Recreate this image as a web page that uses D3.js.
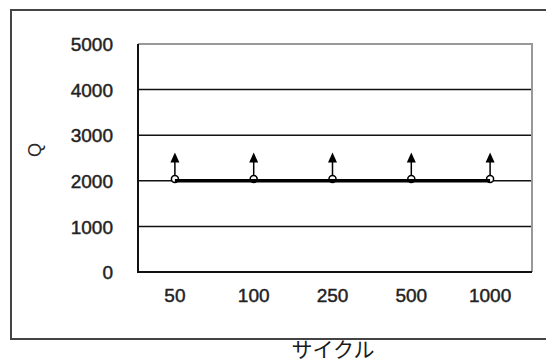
<!DOCTYPE html>
<html><head><meta charset="utf-8">
<script src="https://cdn.jsdelivr.net/npm/d3@7"></script>
<style>
html,body{margin:0;padding:0;background:#fff;}
svg{display:block;font-family:"Liberation Sans",Arial,sans-serif;}
</style></head>
<body>
<svg id="c" width="546" height="362"></svg>
<script>
const categories = ["50","100","250","500","1000"];
const lineValues = [2000,2000,2000,2000,2000];
const markerValues = [2040,2040,2040,2040,2040];
const arrowTops = [2620,2620,2620,2620,2620];
const yTicks = [0,1000,2000,3000,4000,5000];

const svg = d3.select("#c");
const plot = {left:138, top:44, right:532, bottom:272};

const x = d3.scaleBand().domain(categories).range([135.5, 529.5]);
const y = d3.scaleLinear().domain([0,5000]).range([plot.bottom, plot.top]);
const cx = d => x(d) + x.bandwidth()/2;

// outer border
svg.append("rect").attr("x",11).attr("y",10).attr("width",560).attr("height",329)
  .attr("fill","none").attr("stroke","#444").attr("stroke-width",2);

// gridlines
svg.append("g").selectAll("line").data(yTicks.filter(t=>t>0 && t<5000)).join("line")
  .attr("x1",plot.left).attr("x2",plot.right).attr("y1",d=>y(d)).attr("y2",d=>y(d))
  .attr("stroke","#111").attr("stroke-width",1.5);

// top & right frame (gray)
svg.append("path").attr("d",`M${plot.left},${y(5000)}H${plot.right}V${plot.bottom}`)
  .attr("fill","none").attr("stroke","#999").attr("stroke-width",2);

function styleText(sel){
  sel.attr("font-size",19).attr("fill","#222").attr("stroke","#222").attr("stroke-width",0.45)
    .attr("font-family","'Liberation Sans',Arial,sans-serif");
}

// y axis
const yAxis = svg.append("g").attr("transform",`translate(${plot.left},0)`)
  .call(d3.axisLeft(y).tickValues(yTicks).tickFormat(d3.format("d")).tickSize(0).tickPadding(25));
yAxis.select(".domain").remove();
yAxis.selectAll("text").call(styleText).attr("dy","0.35em");

// x axis
const xAxis = svg.append("g").attr("transform",`translate(0,${plot.bottom})`)
  .call(d3.axisBottom(x).tickSize(0).tickPadding(17));
xAxis.select(".domain").remove();
xAxis.selectAll("text").call(styleText);

// left/bottom axis lines
svg.append("path").attr("d",`M${plot.left},${plot.top}V${plot.bottom}H${plot.right}`)
  .attr("fill","none").attr("stroke","#111").attr("stroke-width",2);

// markers (open circles)
svg.append("g").selectAll("circle").data(categories).join("circle")
  .attr("cx",d=>cx(d)).attr("cy",(d,i)=>y(markerValues[i])).attr("r",3.5)
  .attr("fill","#fff").attr("stroke","#000").attr("stroke-width",1.5);

// data line
const line = d3.line().x((d,i)=>cx(categories[i])).y(d=>y(d));
svg.append("path").datum(lineValues).attr("d",line)
  .attr("fill","none").attr("stroke","#000").attr("stroke-width",3.5);

// arrows
const ag = svg.append("g");
categories.forEach((c,i)=>{
  const xx = cx(c), yb = y(markerValues[i]) - 3, yt = y(arrowTops[i]);
  ag.append("line").attr("x1",xx).attr("x2",xx).attr("y1",yb).attr("y2",yt+8)
    .attr("stroke","#000").attr("stroke-width",1.5);
  ag.append("path").attr("d",`M${xx},${yt}L${xx-4.5},${yt+10}L${xx+4.5},${yt+10}Z`).attr("fill","#000");
});

// axis titles
svg.append("text").attr("transform","translate(41,150) rotate(-90)")
  .attr("text-anchor","middle").attr("font-size",18).attr("fill","#2a2a2a").text("Q");
svg.append("text").attr("x",333).attr("y",357).attr("text-anchor","middle")
  .attr("font-size",21).attr("fill","#1a1a1a")
  .attr("font-family","'Noto Sans CJK JP',sans-serif").text("サイクル");
</script>
</body></html>
